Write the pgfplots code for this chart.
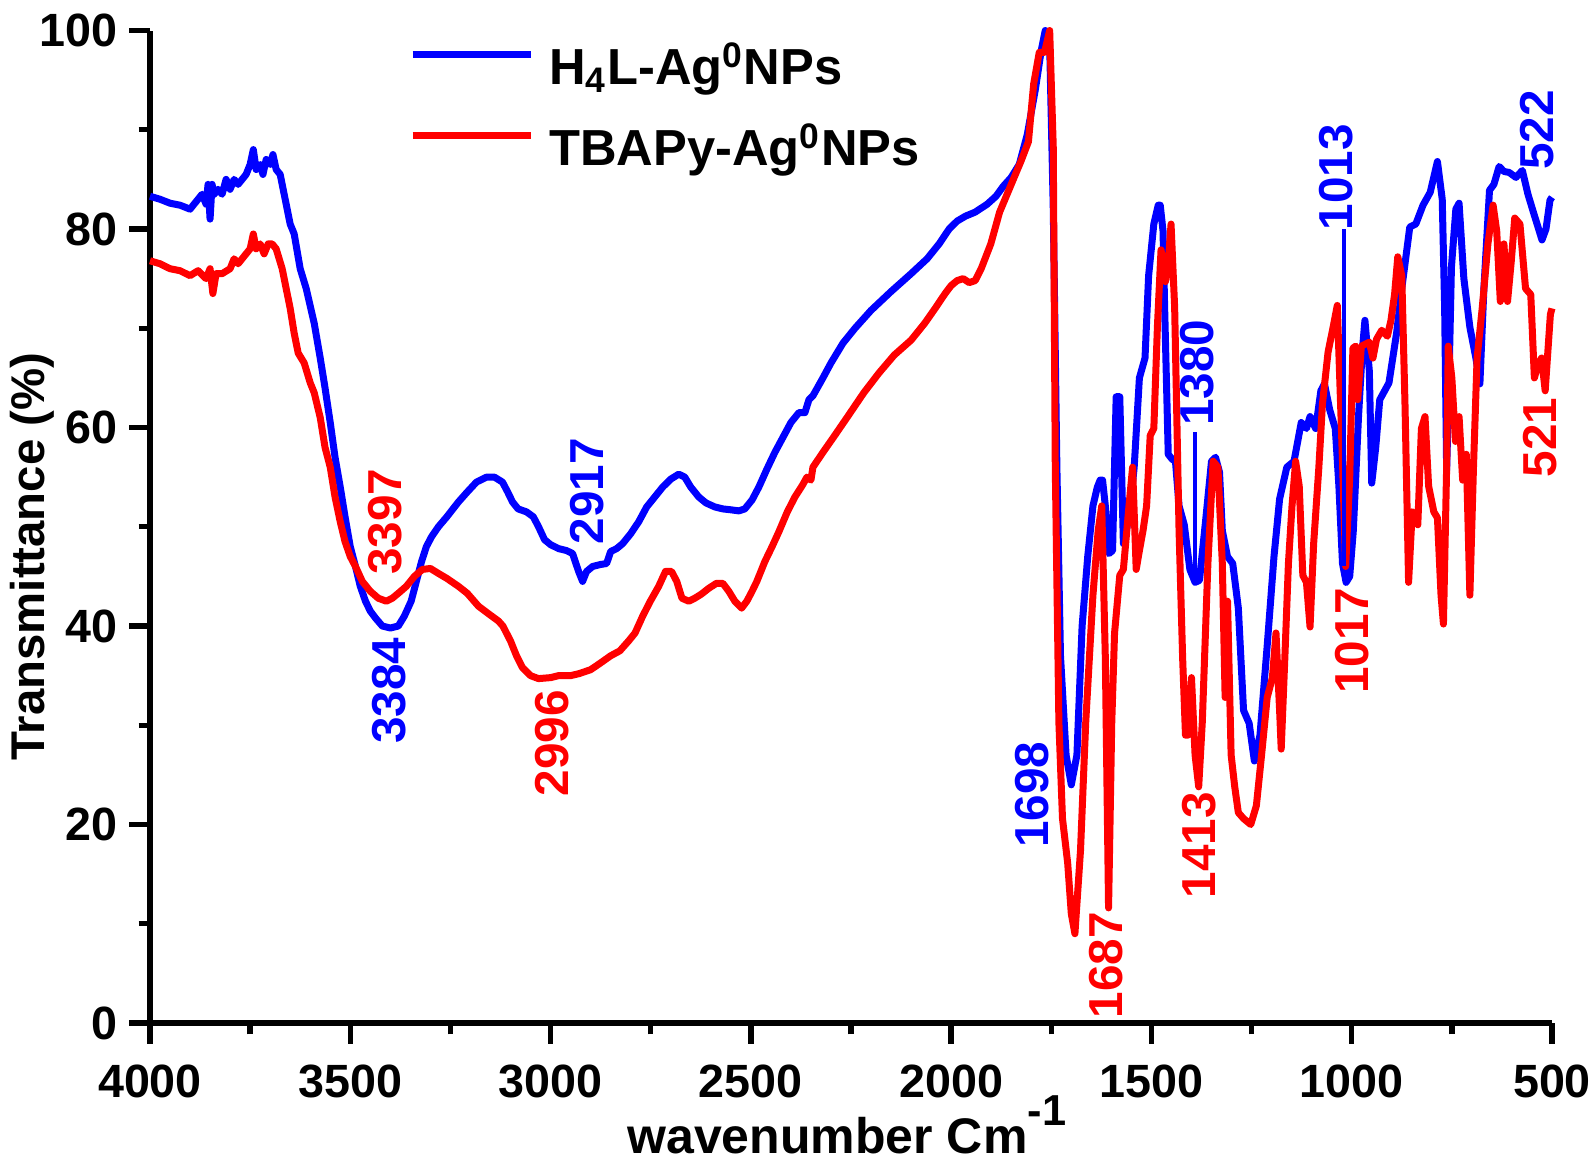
\documentclass[border=0pt]{standalone}
\usepackage{fontspec}
\setmainfont{Liberation Sans}
\usepackage{pgfplots}
\pgfplotsset{compat=1.18}
\newcommand\annot{\fontsize{14.3}{14.3}\selectfont\bfseries}
\pgfplotstableread{
w T
4000 83.3
3975 83.0
3950 82.6
3925 82.4
3900 82.0
3880 83.0
3870 83.5
3860 82.5
3855 84.5
3850 81.0
3845 84.5
3840 83.5
3830 84.0
3820 83.5
3810 85.0
3800 84.0
3790 85.0
3780 84.5
3770 85.0
3760 85.5
3750 86.5
3742 88.0
3735 86.0
3725 86.5
3718 85.5
3710 87.0
3700 86.5
3693 87.5
3685 86.0
3675 85.5
3665 83.5
3650 80.5
3640 79.5
3625 76.0
3610 74.0
3590 70.5
3575 67.0
3563 64.0
3550 60.5
3538 57.0
3525 54.0
3513 51.0
3500 48.0
3487 46.0
3475 44.0
3462 42.5
3450 41.5
3437 40.8
3420 40.0
3400 39.8
3380 40.0
3365 41.0
3348 42.5
3335 44.5
3322 46.5
3310 48.0
3297 49.0
3280 50.0
3259 51.0
3230 52.5
3208 53.5
3185 54.5
3160 55.0
3140 55.0
3120 54.5
3107 53.5
3095 52.5
3081 51.8
3060 51.5
3043 51.0
3030 50.0
3015 48.7
3000 48.2
2980 47.8
2960 47.6
2945 47.3
2930 45.5
2920 44.5
2910 45.5
2895 46.0
2875 46.2
2860 46.3
2850 47.5
2835 47.8
2820 48.3
2800 49.3
2780 50.5
2760 52.0
2740 53.0
2720 54.0
2700 54.8
2680 55.3
2665 55.0
2650 54.0
2630 53.0
2612 52.4
2590 52.0
2570 51.8
2548 51.7
2530 51.6
2515 51.8
2497 52.7
2480 54.0
2460 55.8
2440 57.5
2420 59.0
2400 60.5
2380 61.5
2365 61.5
2355 62.8
2345 63.2
2320 65.0
2300 66.5
2270 68.5
2240 70.0
2200 71.8
2150 73.7
2100 75.5
2060 77.0
2030 78.5
2005 80.0
1985 80.8
1964 81.3
1940 81.7
1910 82.5
1888 83.3
1870 84.3
1850 85.2
1830 86.5
1810 89.5
1790 94.0
1775 98.0
1765 100.0
1754 98.5
1745 82.0
1736 56.0
1727 37.0
1713 27.0
1700 24.0
1686 27.0
1673 40.0
1659 47.0
1646 52.1
1635 54.0
1628 54.7
1622 54.7
1615 52.1
1606 47.3
1597 47.6
1588 63.1
1579 63.1
1570 48.3
1556 50.9
1543 56.0
1530 65.0
1516 67.0
1507 75.3
1494 80.5
1483 82.4
1478 82.4
1471 79.8
1467 72.1
1458 57.3
1448 56.8
1440 56.6
1431 52.1
1418 50.2
1404 45.7
1391 44.4
1380 44.6
1364 50.9
1350 56.6
1340 57.0
1330 55.5
1323 49.6
1310 47.0
1297 46.3
1283 41.8
1270 31.5
1256 30.2
1243 26.4
1229 29.0
1211 38.0
1194 47.0
1180 52.8
1162 56.0
1144 56.6
1126 60.5
1113 59.9
1104 61.1
1090 59.9
1077 63.7
1068 64.4
1055 61.8
1041 59.9
1032 54.1
1023 46.3
1014 44.4
1005 45.0
996 49.6
983 61.1
974 67.5
967 70.8
956 65.7
950 54.4
940 58.0
930 62.8
907 64.5
888 69.5
875 74.0
855 80.2
840 80.5
822 82.4
804 83.7
786 86.8
774 83.0
768 72.1
763 55.7
757 65.0
751 76.2
740 82.0
732 82.6
720 75.0
705 70.1
690 67.0
680 64.4
670 74.0
656 83.9
645 84.5
632 86.3
620 85.8
607 85.7
590 85.2
574 85.9
560 83.5
545 81.5
538 80.6
525 78.9
515 80.0
505 82.9
500 83.2
}\blue
\pgfplotstableread{
w T
4000 76.8
3975 76.5
3950 76.0
3925 75.8
3900 75.3
3880 75.8
3860 75.0
3850 76.0
3843 73.5
3835 75.5
3820 75.5
3800 76.0
3790 77.0
3780 76.5
3770 77.0
3760 77.5
3750 78.0
3742 79.5
3735 78.0
3725 78.5
3715 77.5
3705 78.5
3695 78.5
3685 78.0
3670 76.0
3660 74.0
3650 72.0
3640 69.5
3630 67.5
3615 66.5
3600 64.5
3590 63.5
3575 61.0
3563 58.0
3550 56.0
3538 53.0
3525 50.5
3513 48.5
3500 47.0
3487 46.0
3470 44.5
3450 43.5
3430 42.8
3410 42.5
3395 42.8
3380 43.3
3360 44.0
3340 45.0
3320 45.7
3300 45.8
3280 45.3
3259 44.8
3230 44.0
3208 43.3
3180 42.0
3157 41.3
3130 40.5
3119 40.0
3100 38.5
3085 37.0
3070 35.8
3050 35.0
3030 34.7
3000 34.8
2980 35.0
2950 35.0
2929 35.2
2900 35.6
2878 36.2
2850 37.0
2827 37.5
2805 38.5
2789 39.3
2770 41.0
2751 42.5
2730 44.0
2713 45.5
2698 45.5
2685 44.5
2672 42.8
2655 42.5
2640 42.8
2624 43.2
2605 43.8
2586 44.3
2570 44.3
2555 43.5
2540 42.5
2523 41.8
2510 42.5
2497 43.5
2485 44.5
2465 46.5
2447 48.0
2430 49.5
2409 51.5
2390 53.0
2371 54.2
2360 55.0
2350 54.7
2345 56.0
2320 57.5
2294 59.0
2260 61.0
2218 63.5
2180 65.5
2142 67.3
2100 68.8
2066 70.5
2040 72.0
2015 73.5
2000 74.3
1985 74.8
1970 75.0
1955 74.6
1940 74.8
1925 76.0
1901 78.5
1879 81.7
1852 84.3
1825 86.9
1807 88.8
1794 94.6
1780 97.8
1767 97.8
1754 100
1745 88.2
1740 56.0
1731 30.3
1722 20.6
1709 16.1
1700 11.0
1691 9.0
1677 17.4
1664 30.3
1646 43.1
1633 49.6
1624 52.1
1615 36.7
1607 11.6
1599 30.3
1592 39.3
1579 45.1
1570 45.7
1556 52.1
1547 56.0
1538 45.7
1530 47.6
1521 49.6
1512 52.1
1503 59.2
1494 59.9
1485 70.2
1476 77.9
1465 74.7
1458 76.6
1451 80.5
1442 72.1
1431 49.6
1422 36.7
1415 29.0
1409 29.0
1400 34.8
1391 27.0
1382 23.8
1373 30.3
1359 46.3
1346 56.6
1334 56.0
1323 46.3
1316 32.8
1310 42.5
1301 27.0
1292 23.8
1283 21.2
1270 20.6
1252 20.0
1238 21.9
1225 27.0
1211 32.8
1198 34.8
1189 39.3
1180 31.5
1176 27.6
1167 36.7
1158 46.3
1149 52.1
1140 56.6
1131 54.1
1122 45.1
1113 44.4
1104 39.9
1095 48.3
1082 56.0
1073 62.4
1059 67.6
1046 70.2
1036 72.3
1023 56.6
1015 46.0
1005 55.0
997 68.0
990 68.2
985 62.8
976 68.2
956 68.6
947 67.0
938 68.9
925 69.8
911 69.2
902 70.8
893 73.4
885 77.2
875 75.3
867 62.4
858 44.4
849 51.5
835 50.2
826 59.9
817 61.1
808 54.1
795 51.5
786 50.9
777 43.1
771 40.2
763 56.0
759 68.2
750 65.0
741 58.6
732 61.1
723 54.7
714 57.3
705 43.1
696 56.0
687 67.0
674 72.1
660 78.5
647 82.4
638 79.8
629 72.7
620 78.5
611 72.7
602 76.6
593 81.1
580 80.5
566 74.0
553 73.4
544 65.0
535 66.3
526 67.0
517 63.7
504 71.4
500 72.0
}\red
\begin{document}
\begin{tikzpicture}
\begin{axis}[
  at={(0,0)}, anchor=south west,
  scale only axis, width=420.6pt, height=297.75pt,
  xmin=500, xmax=4000, x dir=reverse, ymin=0, ymax=100,
  axis x line*=bottom, axis y line*=left,
  axis line style={line width=1.8pt},
  xtick={500,1000,...,4000}, minor xtick={750,1250,...,3750},
  ytick={0,20,...,100}, minor ytick={10,30,...,90},
  tick align=outside, major tick length=6.2pt, minor tick length=3.4pt,
  tick style={line width=1.6pt, black},
  ticklabel style={font=\fontsize{14}{14}\selectfont\bfseries},
  xticklabel style={yshift=-2.7pt},
  /pgf/number format/assume math mode=true, /pgf/number format/1000 sep={},
  xlabel={wavenumber Cm\raisebox{8.4pt}{\fontsize{13}{13}\selectfont -1}},
  xlabel style={at={(axis description cs:0.497,-0.131)}, anchor=base, font=\fontsize{15}{15}\selectfont\bfseries},
  ylabel={Transmittance (\%)},
  ylabel style={at={(axis description cs:-0.0838,0.47)}, anchor=center, font=\fontsize{14.2}{14.2}\selectfont\bfseries},
  clip=false,
  legend cell align=left,
  legend style={at={(axis description cs:0.1847,0.9163)}, anchor=west, draw=none, fill=none,
    inner sep=0pt, outer sep=0pt, row sep=9.3pt, column sep=4.5pt,
    font=\fontsize{15.2}{15.2}\selectfont\bfseries,
    nodes={inner sep=0pt, text height=11pt, text depth=4pt}},
  legend image code/.code={\draw[#1, line width=2.2pt] (0pt,5.5pt) -- (35.4pt,5.5pt);},
]
\addplot[blue, line width=2.1pt, line join=round] table[x=w,y=T] {\blue};
\addlegendentry{H\textsubscript{4}L-Ag\textsuperscript{0}NPs}
\addplot[red, line width=2.1pt, line join=round] table[x=w,y=T] {\red};
\addlegendentry{TBAPy-Ag\textsuperscript{0}NPs}
\draw[blue, line width=1.2pt] (axis cs:1391,59.5) -- (axis cs:1391,45);
\draw[blue, line width=1.2pt] (axis cs:1020,80) -- (axis cs:1020,46);
\node[rotate=90, text=red, font=\annot] at (axis cs:3414,50.5) {3397};
\node[rotate=90, text=blue, font=\annot] at (axis cs:3402,33.5) {3384};
\node[rotate=90, text=red, font=\annot] at (axis cs:2995,28.2) {2996};
\node[rotate=90, text=blue, font=\annot] at (axis cs:2910,53.6) {2917};
\node[rotate=90, text=blue, font=\annot] at (axis cs:1797,23) {1698};
\node[rotate=90, text=red, font=\annot] at (axis cs:1612,5.8) {1687};
\node[rotate=90, text=red, font=\annot] at (axis cs:1381,17.9) {1413};
\node[rotate=90, text=blue, font=\annot] at (axis cs:1385,65.5) {1380};
\node[rotate=90, text=blue, font=\annot] at (axis cs:1038,85.2) {1013};
\node[rotate=90, text=red, font=\annot] at (axis cs:1000,38.5) {1017};
\node[rotate=90, text=blue, font=\annot] at (axis cs:538,90) {522};
\node[rotate=90, text=red, font=\annot] at (axis cs:530,59) {521};
\end{axis}
\pgfresetboundingbox
\path (-45pt,-42.3pt) rectangle (433.2pt,306.9pt);
\end{tikzpicture}
\end{document}
